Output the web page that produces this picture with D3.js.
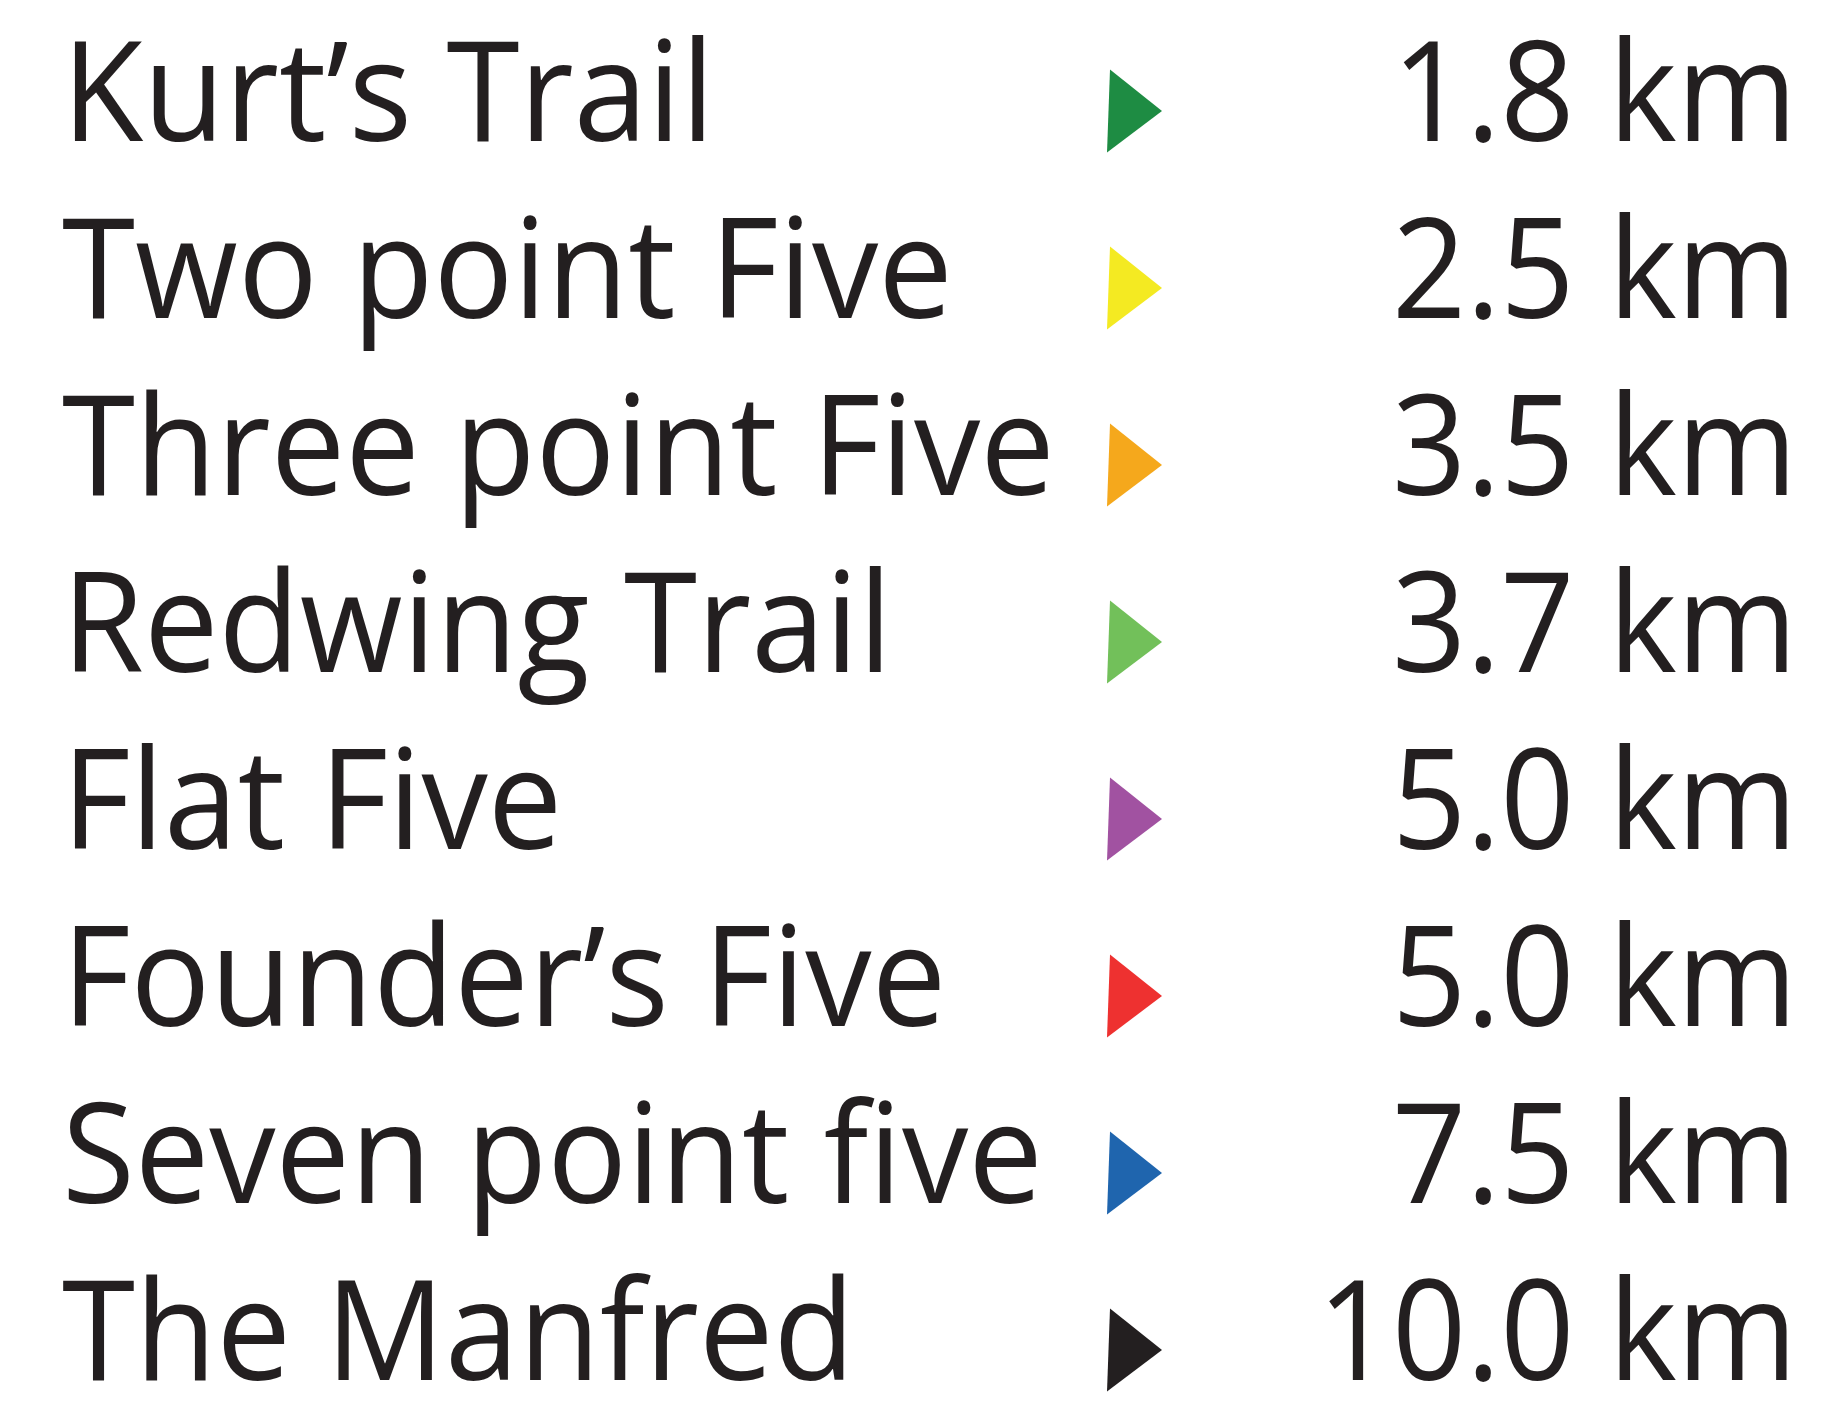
<!DOCTYPE html>
<html>
<head>
<meta charset="utf-8">
<script src="https://cdn.jsdelivr.net/npm/d3@7"></script>
<style>
  html, body { margin: 0; padding: 0; background: #fff; }
  svg { display: block; }
</style>
</head>
<body>
<svg width="1826" height="1407"></svg>
<script>
// trail names, in list order
const trails = [
  'Kurt’s Trail',
  'Two point Five',
  'Three point Five',
  'Redwing Trail',
  'Flat Five',
  'Founder’s Five',
  'Seven point five',
  'The Manfred'
];

// length of each trail, km
const distances = [1.8, 2.5, 3.5, 3.7, 5.0, 5.0, 7.5, 10.0];

// marker colour for each trail
const markerColors = [
  '#1e8c43', '#f4ea22', '#f5a81c', '#72c05a',
  '#a152a1', '#ee3130', '#1f65ae', '#231f20'
];

const width = 1826;
const height = 1407;
const ink = '#231f20';
const fontSize = 139;
const squeeze = 0.955; // Myriad-ish narrower letters
const numSqueeze = 0.935; // digits are narrower still

const svg = d3.select('svg');

const rows = trails.map((name, i) => ({
  name,
  km: distances[i],
  color: markerColors[i]
}));

// one baseline per row
const y = d3.scalePoint()
  .domain(trails)
  .range([141, 1380]);

const fmt = d3.format('.1f');

const row = svg.selectAll('g.row')
  .data(rows)
  .join('g')
  .attr('class', 'row')
  .attr('transform', (d) => `translate(0, ${y(d.name)})`);

// trail names
row.append('text')
  .attr('transform', `translate(62, 0) scale(${squeeze}, 1)`)
  .attr('font-family', '"Open Sans", "Noto Sans", sans-serif')
  .attr('font-size', fontSize)
  .attr('fill', ink)
  .text((d) => d.name);

// little right-pointing triangles
const triW = 55;
const triH = 83;
const triangle = () => {
  const p = d3.path();
  p.moveTo(3, -triH / 2);
  p.lineTo(triW, 0);
  p.lineTo(0, triH / 2);
  p.closePath();
  return p.toString();
};

row.append('path')
  .attr('d', triangle)
  .attr('transform', 'translate(1107, -30)')
  .attr('fill', (d) => d.color);

// distances, right aligned
row.append('text')
  .attr('transform', `translate(1797, 0) scale(${numSqueeze}, 1)`)
  .attr('text-anchor', 'end')
  .attr('font-family', '"Open Sans", "Noto Sans", sans-serif')
  .attr('font-size', fontSize)
  .attr('fill', ink)
  .text((d) => `${fmt(d.km)} km`);
</script>
</body>
</html>
